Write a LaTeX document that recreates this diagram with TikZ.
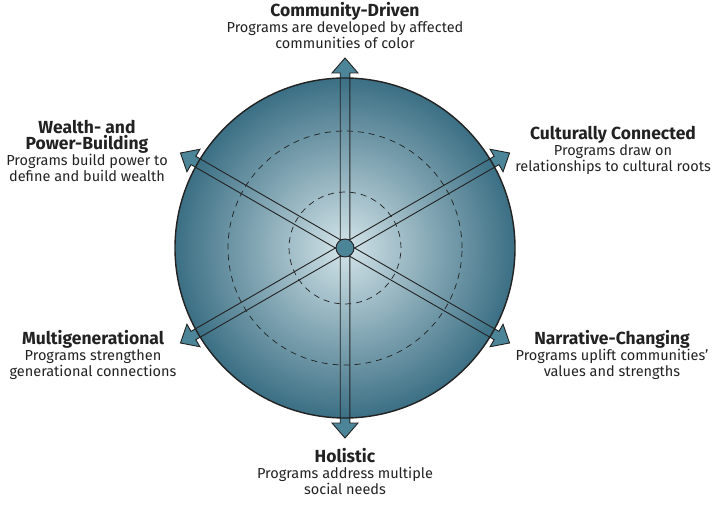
\documentclass[tikz,border=0pt]{standalone}
\usepackage{fontspec}
\setmainfont{Fira Sans}
\usetikzlibrary{calc}
\definecolor{tealdark}{HTML}{3B6F84}
\definecolor{teallight}{HTML}{D3E4E9}
\definecolor{tealhead}{HTML}{4C8598}
\definecolor{inkline}{HTML}{222222}
\newcommand{\pillar}[1]{{\fontsize{17.5}{18.5}\selectfont\bfseries #1}}
\tikzset{
  label/.style = {align=center, anchor=north, inner sep=0pt, text=inkline,
                  font=\fontsize{14.5}{16}\selectfont},
  ring/.style  = {draw=inkline, dashed, dash pattern=on 6pt off 5pt, line width=0.7pt},
  spoke/.style = {draw=inkline, line width=0.9pt, line join=miter}
}
\begin{document}
\begin{tikzpicture}[x=1pt, y=1pt]
  \useasboundingbox (0,0) rectangle (720,504);
  \coordinate (hub) at (345,256);
  % arrow bodies (only the part outside the disc stays visible)
  \foreach \a in {90,30,150,210,270,330}
    \fill[tealhead, shift={(hub)}, rotate=\a]
      (0,4.8) -- (175,4.8) -- (175,13) -- (190,0) -- (175,-13) -- (175,-4.8) -- (0,-4.8) -- cycle;
  % the disc
  \shade[inner color=teallight, outer color=tealdark] (hub) circle (170);
  \draw[inkline, line width=1.4pt] (hub) circle (170);
  \draw[ring] (hub) circle (117);
  \draw[ring] (hub) circle (56);
  % outlines of the six arrows
  \foreach \a/\n in {90/community,30/culture,150/wealth,210/generation,270/holistic,330/narrative}{
    \draw[spoke, shift={(hub)}, rotate=\a]
      (0,4.8) -- (175,4.8) -- (175,13) -- (190,0) -- (175,-13) -- (175,-4.8) -- (0,-4.8);
    \coordinate (tip-\n) at ($(hub)+(\a:190)$);
  }
  \node (core) at (hub) [circle, fill=tealhead, draw=inkline, line width=0.9pt, minimum size=18pt, inner sep=0pt] {};
  % labels
  \node (community) [label] at (345,502) {\pillar{Community-Driven}\\Programs are developed by affected\\communities of color};
  \node (wealth) [label] at (87,384) {\pillar{Wealth- and}\\\pillar{Power-Building}\\Programs build power to\\define and build wealth};
  \node (culture) [label] at (613,378) {\pillar{Culturally Connected}\\Programs draw on\\relationships to cultural roots};
  \node (generation) [label] at (93,174) {\pillar{Multigenerational}\\Programs strengthen\\generational connections};
  \node (narrative) [label] at (612,174) {\pillar{Narrative-Changing}\\Programs uplift communities'\\values and strengths};
  \node (holistic) [label] at (345,56) {\pillar{Holistic}\\Programs address multiple\\social needs};
\end{tikzpicture}
\end{document}
